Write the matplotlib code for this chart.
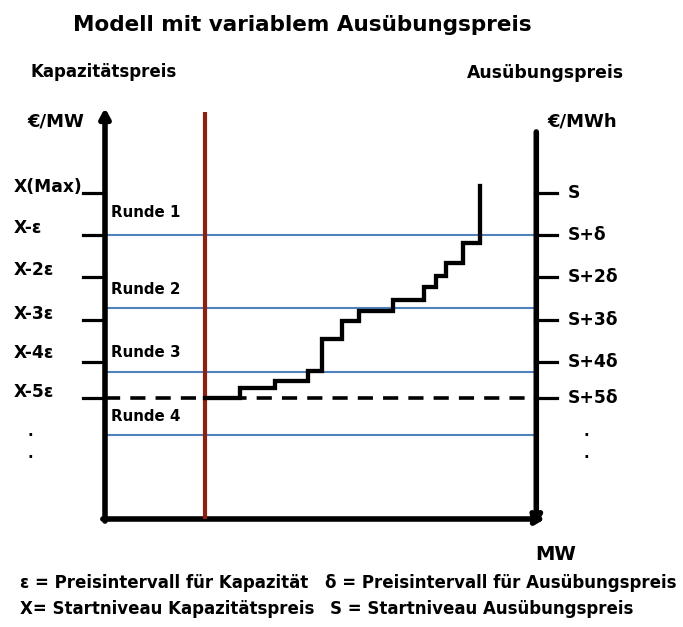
import matplotlib
matplotlib.use("Agg")
import matplotlib.pyplot as plt

plt.rcParams["font.family"] = ["DejaVu Sans"]
plt.rcParams["font.weight"] = "bold"

# --------------------------------------------------------
#  Diagram data (MW on x, price level on y, arbitrary units)
# --------------------------------------------------------
left_labels  = ["X(Max)", "X-ε", "X-2ε", "X-3ε", "X-4ε", "X-5ε"]
right_labels = ["S", "S+δ", "S+2δ", "S+3δ", "S+4δ", "S+5δ"]
tick_levels  = [80.1, 69.8, 59.5, 48.9, 38.6, 29.7]
left_label_levels = [81.6, 71.5, 61.2, 50.4, 40.8, 31.2]

round_names  = ["Runde 1", "Runde 2", "Runde 3", "Runde 4"]
round_levels = [69.8, 51.8, 36.1, 20.6]
round_label_levels = [75.2, 56.3, 40.8, 25.1]

start_level  = 29.7      # dashed line (X-5ε / S+5δ)
red_line_mw  = 23.3

step_mw    = [23.3, 31.4, 39.5, 47.2, 50.5, 55.1, 59.1, 67.0, 74.2, 77.0, 79.3, 83.3, 87.2, 87.2]
step_price = [29.7, 32.2, 33.9, 36.4, 44.2, 48.6, 51.1, 53.8, 57.0, 59.7, 62.9, 67.8, 67.8, 81.8]

dot_levels = [20.6, 15.2]

W, H = 683, 627
fig = plt.figure(figsize=(W / 100, H / 100), dpi=100)
ax = fig.add_axes([105 / W, 1 - 519 / H, 430 / W, 407 / H])
ax.set_xlim(0, 100)
ax.set_ylim(0, 100)
ax.axis("off")

blue = "#4F81BD"
red  = "#8B2111"

# round lines
for lvl in round_levels:
    ax.plot([0, 100], [lvl, lvl], color=blue, lw=1.5, zorder=2)
for name, lvl in zip(round_names, round_label_levels):
    ax.text(1.4, lvl, name, fontsize=10.8, va="center", ha="left")

# dashed start level
ax.plot([0, 100], [start_level, start_level], color="black", lw=2.6,
        dashes=(4.2, 2.8), zorder=3)

# red vertical line
ax.plot([red_line_mw, red_line_mw], [0, 100.5], color=red, lw=3.0, zorder=4)

# supply step curve
ax.plot(step_mw, step_price, drawstyle="steps-post", color="black", lw=3.1,
        zorder=5, solid_joinstyle="miter")

# axes with arrows
arrow_kw = dict(arrowstyle="-|>,head_length=0.55,head_width=0.3", color="black",
                lw=4, shrinkA=0, shrinkB=0)
ax.annotate("", xy=(0, 101.0), xytext=(0, -0.5), arrowprops=arrow_kw,
            annotation_clip=False)
open_kw = dict(arrowstyle="->,head_length=0.5,head_width=0.3", color="black",
               lw=4, shrinkA=0, shrinkB=0)
ax.annotate("", xy=(102.3, 0), xytext=(-0.5, 0), arrowprops=open_kw,
            annotation_clip=False)
ax.annotate("", xy=(100.3, -1.5), xytext=(100.3, 95.1), arrowprops=open_kw,
            annotation_clip=False)

# ticks and labels
for lvl, lab, llvl in zip(tick_levels, left_labels, left_label_levels):
    ax.plot([-5.1, 0], [lvl, lvl], color="black", lw=2.3, clip_on=False)
    ax.text(-21.2, llvl, lab, fontsize=12.3, va="center", ha="left")
for lvl, lab in zip(tick_levels, right_labels):
    ax.plot([100, 105.1], [lvl, lvl], color="black", lw=2.3, clip_on=False)
    ax.text(107.7, lvl, lab, fontsize=12.3, va="center", ha="left")
for lvl in dot_levels:
    ax.text(-17.4, lvl, "·", fontsize=11, va="center", ha="center")
    ax.text(112.0, lvl, "·", fontsize=11, va="center", ha="center")


def ftext(x, y, s, **kw):
    fig.text(x / W, 1 - y / H, s, va="center", **kw)


ftext(302, 25, "Modell mit variablem Ausübungspreis", fontsize=15.5, ha="center")
ftext(30, 72, "Kapazitätspreis", fontsize=12)
ftext(467, 73, "Ausübungspreis", fontsize=12.4)
ftext(27, 122, "€/MW", fontsize=13)
ftext(547, 122, "€/MWh", fontsize=13)
ftext(535, 555, "MW", fontsize=14)
ftext(20, 583, "ε = Preisintervall für Kapazität", fontsize=12)
ftext(325, 583, "δ = Preisintervall für Ausübungspreis", fontsize=12)
ftext(20, 609, "X= Startniveau Kapazitätspreis", fontsize=12)
ftext(330, 609, "S = Startniveau Ausübungspreis", fontsize=12)

fig.savefig("out.png", dpi=100)
